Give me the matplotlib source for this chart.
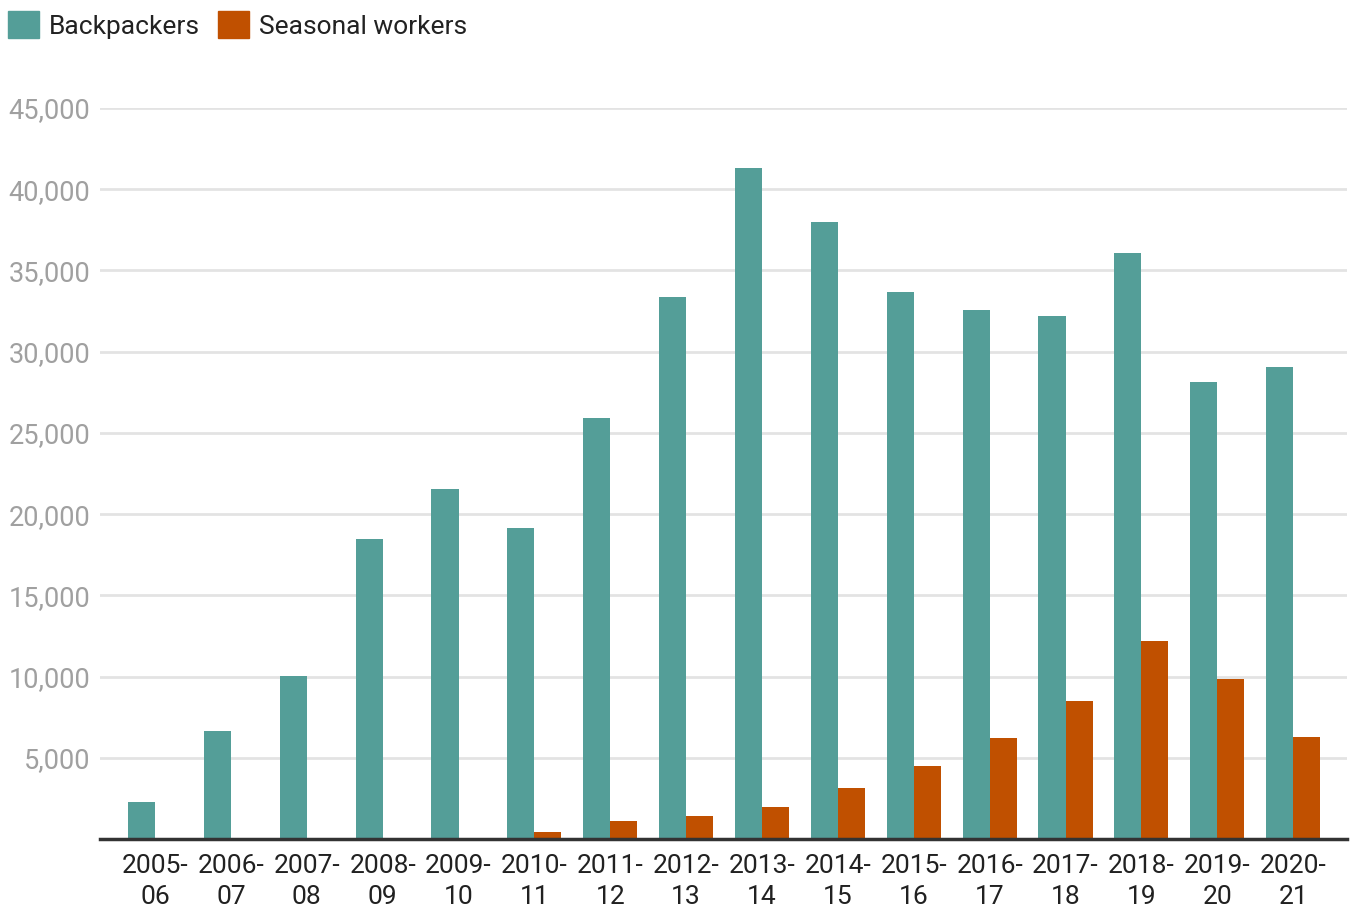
"""Backpackers vs seasonal workers, grouped bars."""

import numpy as np
import matplotlib
matplotlib.use('Agg')
import matplotlib.pyplot as plt
from matplotlib.patches import Patch

plt.rcParams['font.family'] = ['Roboto', 'DejaVu Sans']

years = ['2005-\n06', '2006-\n07', '2007-\n08', '2008-\n09', '2009-\n10',
         '2010-\n11', '2011-\n12', '2012-\n13', '2013-\n14', '2014-\n15',
         '2015-\n16', '2016-\n17', '2017-\n18', '2018-\n19', '2019-\n20',
         '2020-\n21']
backpackers = [2280, 6650, 10040, 18470, 21550, 19150, 25920, 33370, 41320,
               37990, 33680, 32570, 32200, 36080, 28140, 29060]
seasonal = [0, 0, 0, 0, 0, 410, 1090, 1430, 1990, 3160, 4470, 6200, 8480,
            12190, 9830, 6260]
yticks = [5000, 10000, 15000, 20000, 25000, 30000, 35000, 40000, 45000]

teal = '#549e98'
orange = '#c05000'

fig = plt.figure(figsize=(13.5, 9.09), dpi=100)
ax = fig.add_axes([100 / 1350, 1 - 839 / 909, 1247 / 1350, (839 - 108) / 909])

x = np.arange(len(years))
w = 0.356
ax.bar(x - w / 2, backpackers, w, color=teal, zorder=3)
ax.bar(x + w / 2, seasonal, w, color=orange, zorder=3)

ax.set_xlim(-0.725, len(years) - 1 + 0.71)
ax.set_ylim(0, 45000)
ax.set_yticks(yticks)
ax.set_yticklabels([f'{v:,}' for v in yticks])
ax.set_xticks(x)
ax.set_xticklabels(years, linespacing=1.38)

ax.grid(axis='y', color='#e3e3e3', linewidth=2, zorder=0)
ax.tick_params(axis='y', length=0, pad=7, labelsize=19.5, labelcolor='#a0a0a0')
ax.tick_params(axis='x', length=0, pad=11, labelsize=19, labelcolor='#212121')
for s in ['top', 'right', 'left']:
    ax.spines[s].set_visible(False)
ax.spines['bottom'].set_color('#333333')
ax.spines['bottom'].set_linewidth(2.5)
ax.spines['bottom'].set_zorder(4)

handles = [Patch(color=teal, label='Backpackers'),
           Patch(color=orange, label='Seasonal workers')]
fig.legend(handles=handles, loc='upper left', bbox_to_anchor=(-0.008, 1.008),
           ncol=2, frameon=False, fontsize=19, handlelength=1.2,
           handleheight=1.2, handletextpad=0.38, columnspacing=0.65,
           borderaxespad=0.3, labelcolor='#222222')

fig.savefig('out.png', dpi=100)
